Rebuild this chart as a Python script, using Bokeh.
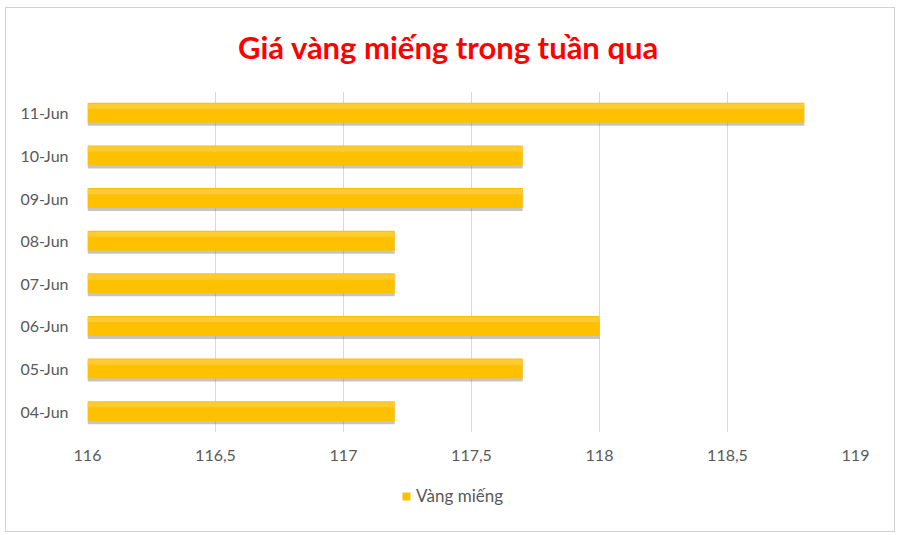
from bokeh.plotting import figure
from bokeh.layouts import column
from bokeh.models import (Range1d, FactorRange, ColumnDataSource, Legend, LegendItem,
                          FixedTicker, CustomJSTickFormatter, Label)
from bokeh.transform import dodge
from bokeh.embed import file_html
from bokeh.resources import INLINE

dates = ["04-Jun", "05-Jun", "06-Jun", "07-Jun", "08-Jun", "09-Jun", "10-Jun", "11-Jun"]
prices = [117.2, 117.7, 118.0, 117.2, 117.2, 117.7, 117.7, 118.8]
x_ticks = [116, 116.5, 117, 117.5, 118, 118.5, 119]
series_name = "Vàng miếng"
title_text = "Giá vàng miếng trong tuần qua"

W, H_TITLE, H_MAIN, H_LEG = 888, 83, 387, 53


def strip(height):
    f = figure(width=W, height=height, output_backend="svg", toolbar_location=None,
               x_range=Range1d(0, 1), y_range=FactorRange(*dates),
               min_border=0, min_border_left=0, min_border_right=0,
               min_border_top=0, min_border_bottom=0)
    f.axis.visible = False
    f.grid.grid_line_color = None
    f.outline_line_color = None
    f.border_fill_color = "white"
    f.background_fill_color = "white"
    return f


# title strip
p0 = strip(H_TITLE)
p0.add_layout(Label(x=361, y=45, x_units="screen", y_units="screen", text=title_text,
                    text_align="center", text_baseline="alphabetic",
                    text_font="Lato", text_font_size="31px", text_font_style="bold",
                    text_color="#FF0000"))

# main chart
p = figure(width=W, height=H_MAIN, output_backend="svg", toolbar_location=None,
           x_range=Range1d(x_ticks[0], x_ticks[-1]), y_range=FactorRange(*dates),
           min_border_left=81, min_border_right=39, min_border_top=0, min_border_bottom=46)
p.outline_line_color = None
p.background_fill_color = "white"
p.border_fill_color = "white"

src = ColumnDataSource(dict(y=dates, v=prices, base=[x_ticks[0]] * len(dates)))

p.hbar(y=dodge("y", -0.07, range=p.y_range), left="base", right="v", height=0.47,
       source=src, fill_color="#6f6f6f", fill_alpha=0.4, line_color=None)
p.hbar(y="y", left="base", right="v", height=0.47, source=src,
       fill_color="#FFC000", line_color=None)
p.hbar(y=dodge("y", 0.15, range=p.y_range), left="base", right="v", height=0.12,
       source=src, fill_color="#FFCB33", line_color=None)

p.xaxis.ticker = FixedTicker(ticks=x_ticks)
p.xaxis.formatter = CustomJSTickFormatter(code="return tick.toString().replace('.', ',');")
for ax in (p.xaxis[0], p.yaxis[0]):
    ax.axis_line_color = None
    ax.major_tick_line_color = None
    ax.minor_tick_line_color = None
    ax.major_label_text_font = "Lato"
    ax.major_label_text_font_size = "16px"
    ax.major_label_text_color = "#595959"
p.xaxis.major_label_standoff = 11
p.yaxis.major_label_standoff = 13

p.xgrid.grid_line_color = "#d9d9d9"
p.xgrid.grid_line_width = 1
p.ygrid.grid_line_color = None

# legend strip (same series, renderer hidden so only the legend shows)
p2 = strip(H_LEG)
r2 = p2.hbar(y="y", left="base", right="v", height=0.47, source=src,
             fill_color="#FFC000", line_color=None)
r2.visible = False
legend = Legend(items=[LegendItem(label=series_name, renderers=[r2])],
                location=(314, 25), orientation="horizontal",
                label_text_font="Lato", label_text_font_size="17px",
                label_text_color="#595959", glyph_width=10, glyph_height=10,
                label_standoff=5, padding=0, margin=0,
                inactive_fill_alpha=0, click_policy="none",
                border_line_color=None, background_fill_alpha=0)
p2.add_layout(legend, "center")

layout = column(p0, p, p2, spacing=0,
                styles={"border": "1px solid #d0d0d0", "margin-left": "5px",
                        "margin-top": "7px", "background": "white"})

open("out.html", "w").write(file_html(layout, INLINE))
